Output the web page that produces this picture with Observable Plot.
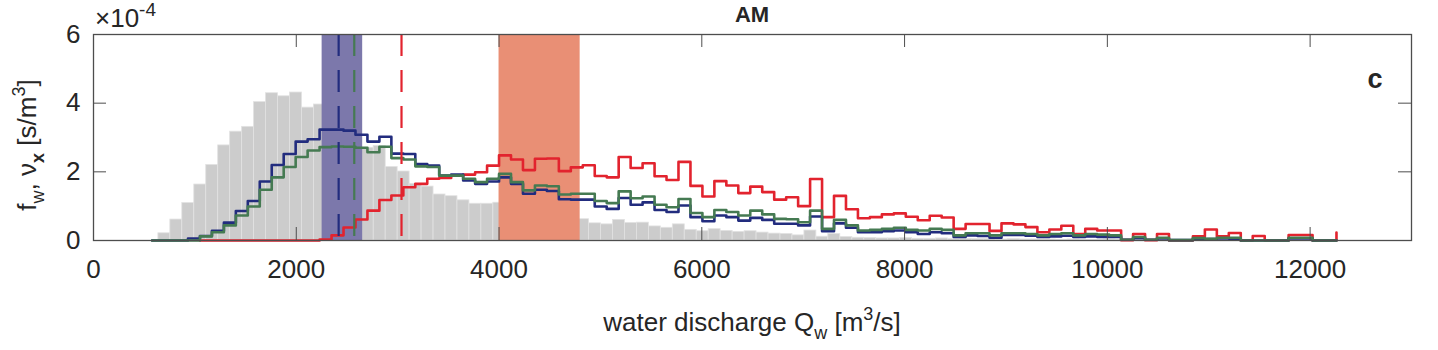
<!DOCTYPE html>
<html><head><meta charset="utf-8">
<script src="https://cdn.jsdelivr.net/npm/d3@7"></script>
<script src="https://cdn.jsdelivr.net/npm/@observablehq/plot@0.6"></script>
<style>body{margin:0;background:#fff;} svg{display:block}</style>
</head><body><div id="chart"></div><script>
// ---------------- data ----------------
const xTicks = [0, 2000, 4000, 6000, 8000, 10000, 12000];
const yTicks = [0, 2, 4, 6];           // in units of 1e-4 s/m^3
const xDomain = [0, 13000];
const yDomain = [0, 6];
const binWidth = 118;                  // m^3/s
const histStart = 640;                 // first gray bar left edge
const lineStart = 578;                 // first stair point
// gray histogram f_w (x1e-4)
const histValues = [0.21,0.61,1.09,1.63,2.20,2.77,3.17,3.31,4.03,4.29,4.20,4.31,3.87,3.96,3.80,3.55,3.20,2.70,2.75,2.14,
  2.01,1.65,1.57,1.34,1.29,1.17,1.07,1.07,1.10,1.00,0.95,0.90,0.82,0.76,0.70,0.62,0.50,0.47,0.60,0.51,
  0.52,0.41,0.37,0.47,0.31,0.27,0.33,0.28,0.25,0.27,0.23,0.20,0.19,0.15,0.29,0.11,0.19,0.10,0.08,0.07,
  0.06,0.06,0.07,0.05,0.05,0.06,0.04,0.05,0.04,0.04,0.03,0.04,0.03,0.03,0.03,0.02,0.03,0.02,0.02,0.03,
  0.02,0.02,0.02,0.01,0.02,0.02,0.01,0.01,0.02,0.01,0.01,0.01,0.01,0.01,0.01,0.01,0.01,0.01];
// stair series nu_x (x1e-4)
const redValues = [null,null,null,null,0,0,0,0,0,0,0,0,0,0,0.03,0.15,0.38,0.61,0.87,1.18,
  1.31,1.55,1.65,1.80,1.82,1.89,1.92,1.99,2.18,2.48,2.36,2.05,2.38,2.39,2.02,2.13,2.19,1.88,1.84,2.43,
  2.11,2.25,1.87,1.76,2.29,1.59,1.28,1.73,1.60,1.38,1.57,1.41,1.19,1.26,1.00,1.79,0.68,1.30,0.91,0.65,
  0.68,0.76,0.79,0.69,0.59,0.72,0.67,0.34,0.48,0.48,0.28,0.50,0.47,0.39,0.24,0.32,0.43,0.19,0.34,0.29,
  0.29,0.01,0.19,0.01,0.19,0,0,0.12,0.32,0.12,0.22,0,0.13,0,0,0.16,0.16,0,0,0.23];
const navyValues = [0,0,0,0.06,0.13,0.28,0.52,0.86,1.15,1.72,2.20,2.52,2.88,2.95,3.23,3.23,3.20,3.08,2.88,3.02,
  2.53,2.52,2.23,2.18,1.89,1.92,1.75,1.65,1.72,1.84,1.65,1.36,1.48,1.44,1.20,1.19,1.19,0.99,0.92,1.24,
  1.04,1.11,0.89,0.83,1.02,0.68,0.56,0.73,0.68,0.58,0.66,0.60,0.49,0.49,0.44,0.70,0.27,0.50,0.37,0.24,
  0.24,0.27,0.29,0.24,0.19,0.24,0.21,0.10,0.15,0.13,0.08,0.16,0.16,0.14,0.10,0.12,0.14,0.10,0.12,0.10,
  0.10,0.02,0.07,0.02,0.06,0.01,0.01,0.05,0.04,0.06,0.05,0,0,0,0,0.06,0.06,0,0,0];
const greenValues = [0,0,0,0,0.12,0.24,0.44,0.73,0.99,1.48,1.84,2.14,2.43,2.62,2.72,2.74,2.73,2.70,2.57,2.73,
  2.40,2.36,2.16,2.14,1.89,1.89,1.80,1.70,1.80,1.94,1.70,1.46,1.60,1.58,1.34,1.36,1.36,1.15,1.09,1.43,
  1.23,1.28,1.04,0.97,1.21,0.80,0.68,0.89,0.83,0.73,0.87,0.76,0.63,0.62,0.53,0.87,0.34,0.60,0.44,0.29,
  0.31,0.34,0.37,0.31,0.29,0.34,0.31,0.15,0.21,0.21,0.15,0.21,0.21,0.19,0.15,0.19,0.21,0.15,0.19,0.17,
  0.15,0.02,0.10,0.02,0.08,0.01,0.01,0.07,0.05,0.08,0.08,0,0,0,0,0.08,0.08,0,0,0];
const medianNames = ["navy", "green", "red"];
const medianQ = [2418, 2572, 3038];
const bandNames = ["navy", "red"];
const bandQ1 = [2255, 4000];
const bandQ2 = [2655, 4800];

// ---------------- styles ----------------
const lineColor = {navy: "#222c7e", green: "#457a52", red: "#e2232e"};
const bandColor = {navy: "#7c78ab", red: "#e98f75"};
const axisColor = "#4d4d4d";
const textColor = "#262626";
const W = 1438, H = 350, mL = 93, mR = 27, mT = 34, mB = 110;
const frameH = H - mT - mB, frameW = W - mL - mR, tickLen = 13;
const fs = 26;

// ---------------- tables ----------------
const hist = histValues.map((v, i) => ({x1: histStart + i * binWidth, x2: histStart + (i + 1) * binWidth, v}));
const toLine = (vals) => vals.map((v, i) => ({x: lineStart + i * binWidth, v})).filter(d => d.v != null);
const medians = medianNames.map((name, i) => ({name, q: medianQ[i]}));
const bands = bandNames.map((name, i) => ({name, q1: bandQ1[i], q2: bandQ2[i]}));

const plot = Plot.plot({
  width: W, height: H,
  marginLeft: mL, marginRight: mR, marginTop: mT, marginBottom: mB,
  style: {fontFamily: "Liberation Sans, Arial, sans-serif", fontSize: fs + "px", color: textColor, background: "#fff"},
  x: {domain: xDomain, label: null},
  y: {domain: yDomain, label: null},
  marks: [
    Plot.rectY(hist, {x1: "x1", x2: "x2", y: "v", fill: "#cccccc", stroke: "#e2e2e2", strokeWidth: 0.8}),
    Plot.rect(bands, {x1: "q1", x2: "q2", y1: () => yDomain[0], y2: () => yDomain[1], fill: d => bandColor[d.name]}),
    Plot.line(toLine(redValues), {x: "x", y: "v", curve: "step-after", stroke: lineColor.red, strokeWidth: 2.6}),
    Plot.line(toLine(navyValues), {x: "x", y: "v", curve: "step-after", stroke: lineColor.navy, strokeWidth: 2.6}),
    Plot.line(toLine(greenValues), {x: "x", y: "v", curve: "step-after", stroke: lineColor.green, strokeWidth: 2.6}),
    Plot.ruleX(medians, {x: "q", stroke: d => lineColor[d.name], strokeWidth: 2.2, strokeDasharray: "22,14"}),
    Plot.tickX(xTicks, {x: d => d, insetTop: frameH - tickLen, stroke: axisColor}),
    Plot.tickX(xTicks, {x: d => d, insetBottom: frameH - tickLen, stroke: axisColor}),
    Plot.tickY(yTicks, {y: d => d, insetRight: frameW - tickLen, stroke: axisColor}),
    Plot.tickY(yTicks, {y: d => d, insetLeft: frameW - tickLen, stroke: axisColor}),
    Plot.frame({stroke: axisColor, strokeWidth: 1.3}),
    Plot.axisX({ticks: xTicks, tickSize: 0, tickPadding: 19, tickFormat: d => String(d), label: null, fill: textColor}),
    Plot.axisY({ticks: yTicks, tickSize: 0, tickPadding: 13, tickFormat: d => String(d), label: null, fill: textColor})
  ]
});

const svg = d3.select(plot);
const cx = mL + frameW / 2;
const font = "Liberation Sans, Arial, sans-serif";
function addText(x, y, opts = {}) {
  return svg.append("text").attr("x", x).attr("y", y)
    .attr("font-family", font).attr("font-size", opts.size || fs)
    .attr("font-weight", opts.weight || "normal")
    .attr("text-anchor", opts.anchor || "middle")
    .attr("fill", textColor)
    .attr("transform", opts.transform || null);
}
// title
addText(cx, 22, {size: 22, weight: "bold"}).text("AM");
// panel letter
addText(W - mR - 36, 88, {size: 27, weight: "bold"}).text("c");
// exponent
const ex = addText(mL + 2, 27, {anchor: "start", size: 26});
ex.append("tspan").text("×10");
ex.append("tspan").attr("dy", -11).attr("font-size", 19).text("-4");
// x label
const xl = addText(cx, 331, {size: fs});
xl.append("tspan").text("water discharge Q");
xl.append("tspan").attr("dy", 8).attr("font-size", 18).text("w");
xl.append("tspan").attr("dy", -8).text(" [m");
xl.append("tspan").attr("dy", -11).attr("font-size", 18).text("3");
xl.append("tspan").attr("dy", 11).text("/s]");
// y label
const yl = addText(0, 0, {size: fs, transform: `translate(36,${mT + frameH / 2 + 8}) rotate(-90)`});
yl.append("tspan").text("f");
yl.append("tspan").attr("dy", 8).attr("font-size", 18).text("w");
yl.append("tspan").attr("dy", -8).text(", ν");
yl.append("tspan").attr("dy", 8).attr("font-size", 18).attr("font-weight", "bold").text("x");
yl.append("tspan").attr("dy", -8).text(" [s/m");
yl.append("tspan").attr("dy", -11).attr("font-size", 18).text("3");
yl.append("tspan").attr("dy", 11).text("]");

document.getElementById("chart").appendChild(plot);
</script></body></html>
